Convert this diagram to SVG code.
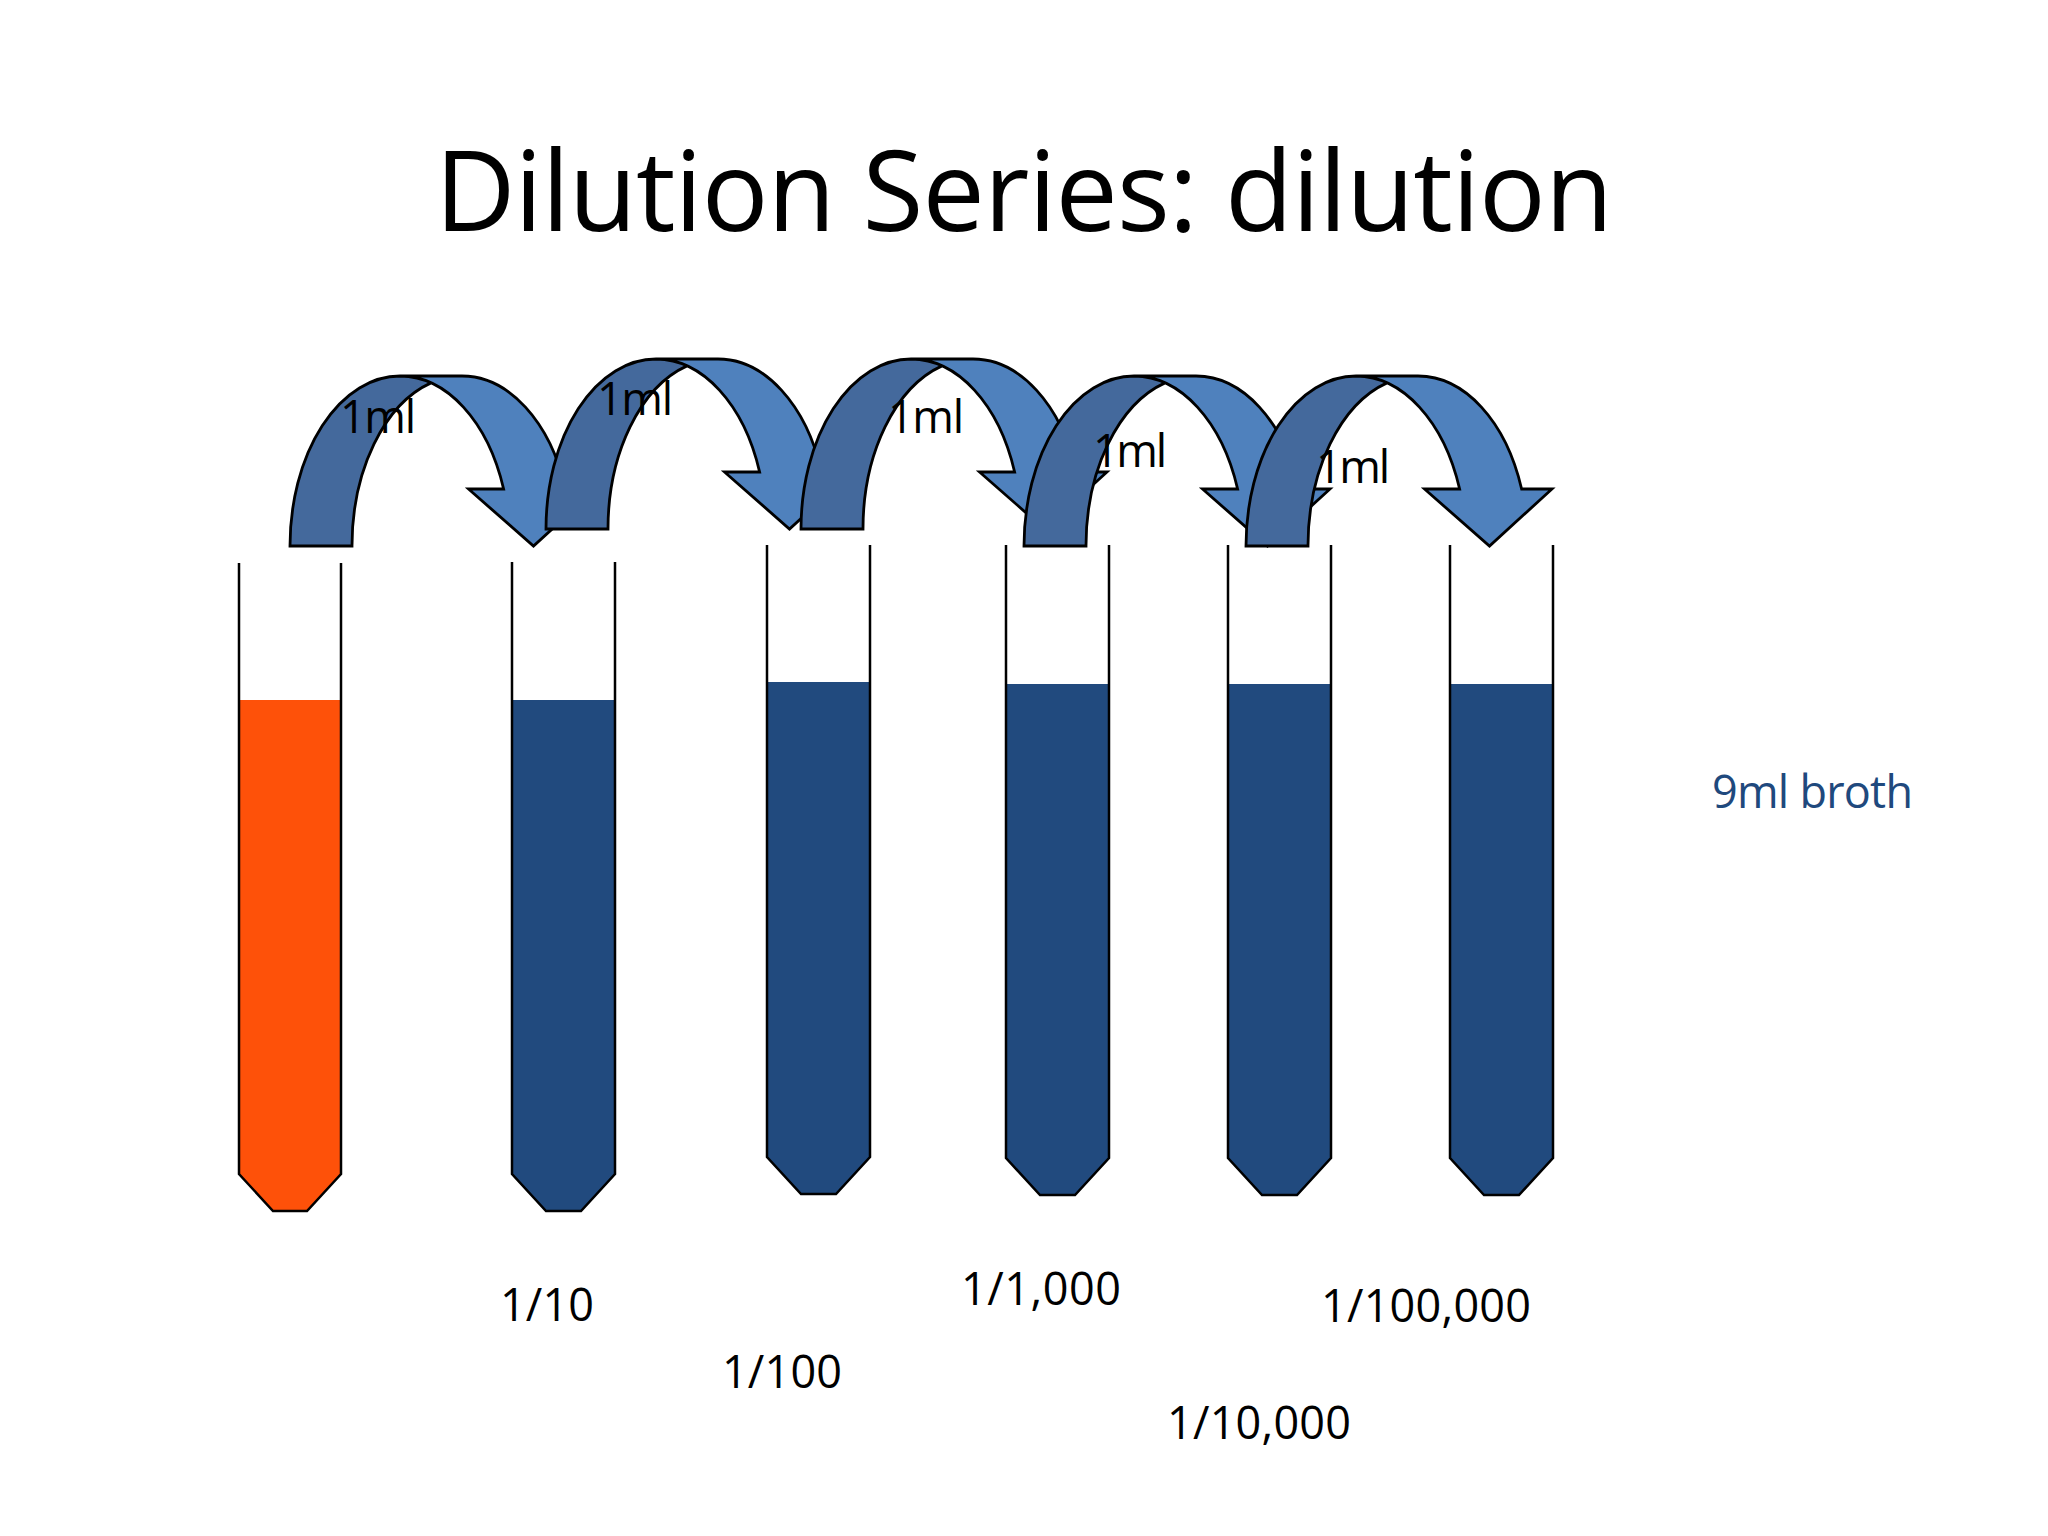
<svg xmlns="http://www.w3.org/2000/svg" xmlns:xlink="http://www.w3.org/1999/xlink" width="2048" height="1536" viewBox="0 0 2048 1536">
  <style>
    .title { font-family: "Open Sans", "Noto Sans", sans-serif; font-size: 111px; fill: #000; }
    .lbl { font-family: "Open Sans", "Noto Sans", sans-serif; font-size: 45px; fill: #000; }
    .broth { fill: #1F497D; }
    .wall { fill: none; stroke: #000; stroke-width: 2.5; stroke-linejoin: miter; }
    .orange { fill: #FE5109; }
    .navy { fill: #214A7E; }
    .arrLight { fill: #4F81BD; }
    .arrDark { fill: #44699C; }
    .arrLine { fill: none; stroke: #000; stroke-width: 2.8; stroke-linejoin: miter; }
  </style>
  <defs>
    <g id="curvedArrow">
      <path class="arrLight" d="M 243.5 0 L 178.5 -57 L 213.63 -57 A 110 170 0 0 0 110 -170 L 172 -170 A 110 170 0 0 1 275.63 -57 L 306 -57 Z"/>
      <path class="arrDark" d="M 141 -163.11 A 110 170 0 0 0 62 0 L 0 0 A 110 170 0 0 1 141 -163.11 Z"/>
      <path class="arrLine" d="M 141 -163.11 A 110 170 0 0 0 62 0 L 0 0 A 110 170 0 0 1 110 -170 L 172 -170 A 110 170 0 0 1 275.63 -57 L 306 -57 L 243.5 0 L 178.5 -57 L 213.63 -57 A 110 170 0 0 0 110 -170"/>
    </g>
  </defs>
  <rect width="2048" height="1536" fill="#FFFFFF"/>

  <text class="title" x="435" y="231" textLength="1178">Dilution Series: dilution</text>

  <g id="tube1">
    <path class="orange" d="M 239 700 L 341 700 L 341 1174 L 307 1211 L 273 1211 L 239 1174 Z"/>
    <path class="wall" d="M 239 563 L 239 1174 L 273 1211 L 307 1211 L 341 1174 L 341 563"/>
  </g>
  <g id="tube2">
    <path class="navy" d="M 512 700 L 615 700 L 615 1174 L 581 1211 L 546 1211 L 512 1174 Z"/>
    <path class="wall" d="M 512 562 L 512 1174 L 546 1211 L 581 1211 L 615 1174 L 615 562"/>
  </g>
  <g id="tube3">
    <path class="navy" d="M 767 682 L 870 682 L 870 1157 L 836 1194 L 801 1194 L 767 1157 Z"/>
    <path class="wall" d="M 767 545 L 767 1157 L 801 1194 L 836 1194 L 870 1157 L 870 545"/>
  </g>
  <g id="tube4">
    <path class="navy" d="M 1006 684 L 1109 684 L 1109 1158 L 1075 1195 L 1040 1195 L 1006 1158 Z"/>
    <path class="wall" d="M 1006 545 L 1006 1158 L 1040 1195 L 1075 1195 L 1109 1158 L 1109 545"/>
  </g>
  <g id="tube5">
    <path class="navy" d="M 1228 684 L 1331 684 L 1331 1158 L 1297 1195 L 1262 1195 L 1228 1158 Z"/>
    <path class="wall" d="M 1228 545 L 1228 1158 L 1262 1195 L 1297 1195 L 1331 1158 L 1331 545"/>
  </g>
  <g id="tube6">
    <path class="navy" d="M 1450 684 L 1553 684 L 1553 1158 L 1519 1195 L 1484 1195 L 1450 1158 Z"/>
    <path class="wall" d="M 1450 545 L 1450 1158 L 1484 1195 L 1519 1195 L 1553 1158 L 1553 545"/>
  </g>

  <g id="connectors">
    <use xlink:href="#curvedArrow" href="#curvedArrow" transform="translate(290,546)"/>
    <use xlink:href="#curvedArrow" href="#curvedArrow" transform="translate(546,529)"/>
    <use xlink:href="#curvedArrow" href="#curvedArrow" transform="translate(801,529)"/>
    <use xlink:href="#curvedArrow" href="#curvedArrow" transform="translate(1024,546)"/>
    <use xlink:href="#curvedArrow" href="#curvedArrow" transform="translate(1246,546)"/>
  </g>

  <g id="transfer-labels">
    <text class="lbl" x="340" y="433" textLength="76">1ml</text>
    <text class="lbl" x="597" y="415" textLength="76">1ml</text>
    <text class="lbl" x="888" y="433" textLength="76">1ml</text>
    <text class="lbl" x="1093" y="467" textLength="74">1ml</text>
    <text class="lbl" x="1316" y="483" textLength="74">1ml</text>
  </g>

  <g id="dilution-labels">
    <text class="lbl" x="500" y="1321" textLength="94">1/10</text>
    <text class="lbl" x="722" y="1388" textLength="120">1/100</text>
    <text class="lbl" x="961" y="1305" textLength="160">1/1,000</text>
    <text class="lbl" x="1167" y="1439" textLength="184">1/10,000</text>
    <text class="lbl" x="1321" y="1322" textLength="210">1/100,000</text>
  </g>

  <g id="broth-label">
    <text class="lbl broth" x="1712" y="808" textLength="201">9ml broth</text>
  </g>
</svg>
